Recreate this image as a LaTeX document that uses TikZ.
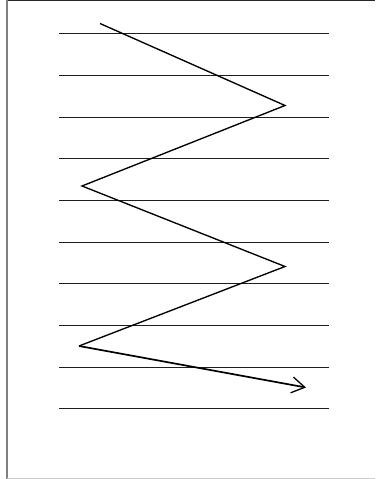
\documentclass[tikz,border=0pt]{standalone}
\usetikzlibrary{arrows.meta}
\definecolor{rulegray}{HTML}{1E1E1E}
\tikzset{
  rule/.style={draw=rulegray, line width=1.2pt},
  zig/.style={draw=black, line width=1.35pt, line join=miter},
}
\begin{document}
\begin{tikzpicture}[x=1pt,y=-1pt]
\useasboundingbox (0,0) rectangle (375,479);
\fill[white] (0,0) rectangle (375,479);
% frame
\draw[draw=black!85, line width=1.3pt] (7,0.8) -- (375,0.8);
\draw[draw=black!50, line width=1.8pt] (6.6,0) -- (6.6,479);
\draw[draw=black!20, line width=1.3pt] (7,478.2) -- (375,478.2);
% horizontal lines
\foreach \yy/\nm in {33.5/l1,75.5/l2,117.5/l3,158.5/l4,200.5/l5,242.5/l6,283.5/l7,325.5/l8,367.5/l9,408.5/l10}{
  \coordinate (\nm a) at (59,\yy);
  \coordinate (\nm b) at (329,\yy);
  \draw[rule] (\nm a) -- (\nm b);
}
% zigzag
\coordinate (p0) at (100,23.5);
\coordinate (p1) at (285,105.5);
\coordinate (p2) at (82,186);
\coordinate (p3) at (285,266.5);
\coordinate (p4) at (79,346);
\coordinate (p5) at (306,387.5);
\draw[zig] (p0) -- (p1) -- (p2) -- (p3) -- (p4);
\draw[zig, line width=1.7pt, -{Straight Barb[length=13pt,width=16pt,line width=1.3pt]}] (p4) -- (p5);
\end{tikzpicture}
\end{document}
